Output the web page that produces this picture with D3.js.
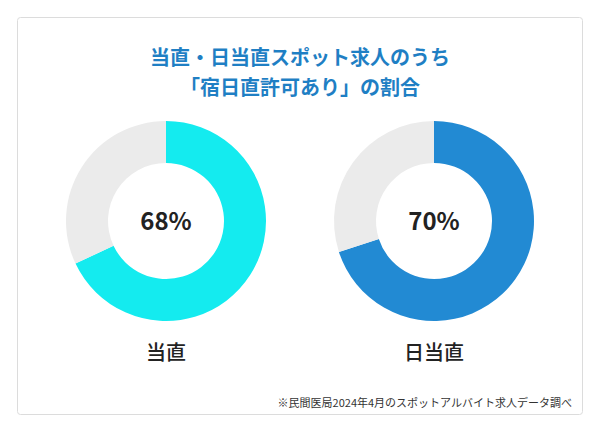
<!DOCTYPE html>
<html><head><meta charset="utf-8">
<script src="https://cdn.jsdelivr.net/npm/d3@7"></script>
<style>body{margin:0;background:#fff;font-family:"Noto Sans CJK JP","Noto Sans",sans-serif;}</style>
</head><body>
<svg id="chart" width="600" height="433"></svg>
<script>
var categories = ["当直", "日当直"];
var shares = [68, 70];
var colors = ["#14EBEF", "#228AD3"];
var titleLines = ["当直・日当直スポット求人のうち", "「宿日直許可あり」の割合"];
var note = "※民間医局2024年4月のスポットアルバイト求人データ調べ";

var svg = d3.select("#chart");
svg.append("rect").attr("x", 17.5).attr("y", 17.5).attr("width", 565).attr("height", 397)
  .attr("rx", 3).attr("fill", "#fff").attr("stroke", "#dcdcdc");

svg.selectAll(".title").data(titleLines).enter().append("text")
  .attr("x", 300).attr("y", function(d, i) { return 65 + i * 30; })
  .attr("text-anchor", "middle").attr("font-size", 20).attr("font-weight", 700)
  .attr("fill", "#1F7FC4").text(function(d) { return d; });

var x = d3.scalePoint().domain(categories).range([166, 434]);
var arc = d3.arc().innerRadius(58).outerRadius(100);
var pie = d3.pie().sort(null);

categories.forEach(function(c, i) {
  var g = svg.append("g").attr("transform", "translate(" + x(c) + ",221)");
  g.selectAll("path").data(pie([shares[i], 100 - shares[i]])).enter().append("path")
    .attr("d", arc).attr("fill", function(d, j) { return j == 0 ? colors[i] : "#EBEBEB"; });
  g.append("text").attr("text-anchor", "middle").attr("y", 9).attr("font-size", 24)
    .attr("font-weight", 700).attr("fill", "#222").text(shares[i] + "%");
  g.append("text").attr("text-anchor", "middle").attr("y", 139).attr("font-size", 20)
    .attr("font-weight", 500).attr("fill", "#222").text(c);
});

svg.append("text").attr("x", 572).attr("y", 407).attr("text-anchor", "end")
  .attr("font-size", 11).attr("fill", "#333").text(note);
</script>
</body></html>
